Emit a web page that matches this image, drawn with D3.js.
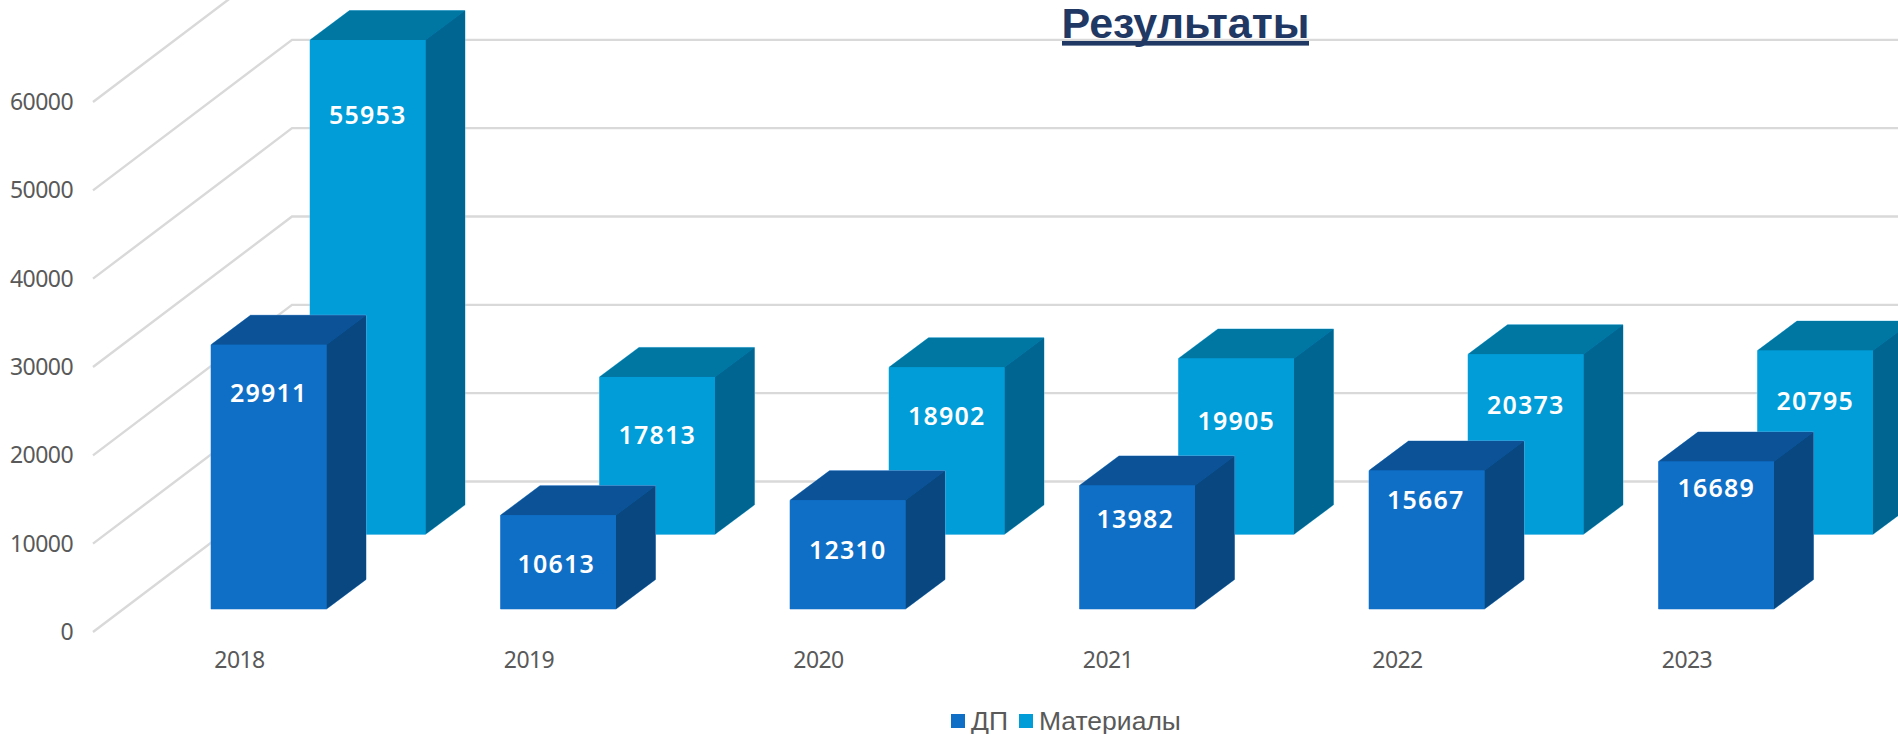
<!DOCTYPE html>
<html><head><meta charset="utf-8">
<script src="https://cdn.jsdelivr.net/npm/d3@7/dist/d3.min.js"></script>
<style>html,body{margin:0;padding:0;background:#fff;overflow:hidden}svg{display:block}</style>
</head><body><div id="chart"></div>
<script>
const years = ["2018","2019","2020","2021","2022","2023"];
const dpValues = [29911,10613,12310,13982,15667,16689];
const matValues = [55953,17813,18902,19905,20373,20795];
const yTicks = [0,10000,20000,30000,40000,50000,60000];
const seriesNames = ["ДП","Материалы"];
// hand-placed data label offsets from each bar's top centre (as in the original)
const dpLabelDrop = [48,49,50,33.5,29,26];
const matLabelDrop = [75,58,49,62.5,51,50];
const dpLabelShift = [0,-2,0,-2,-1,0];

const W=1898,H=734;
const svg=d3.select("#chart").append("svg").attr("width",W).attr("height",H);
const axisFont="'Noto Sans',sans-serif";
const h=d3.scaleLinear().domain([0,60000]).range([0,530]);
const yFront=d3.scaleLinear().domain([0,60000]).range([632,102]);
const xDp=d3.scalePoint().domain(years).range([211,1658.5]);
const xMat=d3.scalePoint().domain(years).range([310,1757.5]);
const xTick=d3.scalePoint().domain(years).range([239,1686.5]);
const wall={x0:93,x1:292,dy:-150.5};
const bw=115.5,ddx=39.5,ddy=29.5;

// gridlines
const grid=svg.append("g").attr("fill","none").attr("stroke","#d9d9d9").attr("stroke-width",2.4);
grid.selectAll("path").data(yTicks).join("path")
  .attr("d",d=>{const y=yFront(d);return `M${wall.x0},${y}L${wall.x1},${y+wall.dy}L${W},${y+wall.dy}`;});

// axes
const ya=svg.append("g").attr("transform",`translate(73,0)`)
  .call(d3.axisLeft(yFront).tickValues(yTicks).tickSize(0).tickPadding(0).tickFormat(d=>d));
ya.select(".domain").remove();
ya.selectAll("text").attr("font-family",axisFont).attr("font-size",23).attr("letter-spacing",-0.55).attr("fill","#595959");
const xa=svg.append("g").attr("transform",`translate(0,652)`)
  .call(d3.axisBottom(xTick).tickSize(0).tickPadding(0));
xa.select(".domain").remove();
xa.selectAll("text").attr("font-family",axisFont).attr("font-size",23).attr("letter-spacing",-0.55).attr("fill","#595959");

function bars(values,x,base,c,drop,shift){
  const g=svg.append("g");
  const rows=years.map((yr,i)=>({yr,v:values[i],d:drop[i],s:shift?shift[i]:0}));
  const b=g.selectAll("g").data(rows).join("g");
  b.append("path").attr("fill",c.front).attr("stroke",c.edge).attr("stroke-width",0.9)
    .attr("d",d=>{const l=x(d.yr),t=base-h(d.v);return `M${l},${t}L${l+ddx},${t-ddy}L${l+bw+ddx},${t-ddy}L${l+bw+ddx},${base-ddy}L${l+bw},${base}L${l},${base}Z`;});
  b.append("path").attr("fill",c.top)
    .attr("d",d=>{const l=x(d.yr),t=base-h(d.v);return `M${l},${t}L${l+ddx},${t-ddy}L${l+bw+ddx},${t-ddy}L${l+bw},${t}Z`;});
  b.append("path").attr("fill",c.side)
    .attr("d",d=>{const l=x(d.yr)+bw,t=base-h(d.v);return `M${l},${t}L${l+ddx},${t-ddy}L${l+ddx},${base-ddy}L${l},${base}Z`;});
  b.append("rect").attr("fill",c.front)
    .attr("x",d=>x(d.yr)).attr("y",d=>base-h(d.v)).attr("width",bw).attr("height",d=>h(d.v));
  b.append("text").text(d=>d.v)
    .attr("x",d=>x(d.yr)+bw/2+d.s).attr("y",d=>base-h(d.v)+d.d).attr("dy","0.36em")
    .attr("text-anchor","middle").attr("fill","#fff").attr("font-family",axisFont)
    .attr("font-weight",600).attr("font-size",25).attr("letter-spacing",1.2);
}
bars(matValues,xMat,534.3,{front:"#009dd9",top:"#0076a3",side:"#006590",edge:"#7cc8e8"},matLabelDrop);
bars(dpValues,xDp,609,{front:"#0f6fc6",top:"#0b5297",side:"#094780",edge:"#6fa6dc"},dpLabelDrop,dpLabelShift);

// title
const titleX=[1062,1309];
svg.append("text").text("Результаты").attr("x",(titleX[0]+titleX[1])/2).attr("y",38).attr("text-anchor","middle")
  .attr("font-family","'Liberation Sans',Arial,sans-serif").attr("font-weight",700).attr("font-size",43)
  .attr("fill","#1f3864");
svg.append("rect").attr("x",titleX[0]).attr("y",41).attr("width",titleX[1]-titleX[0]).attr("height",4.6).attr("fill","#1f3864");

// legend
const leg=svg.append("g").selectAll("g").data(seriesNames).join("g")
  .attr("transform",(d,i)=>`translate(${[951,1019][i]},714)`);
leg.append("rect").attr("width",14).attr("height",14).attr("fill",(d,i)=>["#0f6fc6","#009dd9"][i]);
leg.append("text").text(d=>d).attr("x",20).attr("y",15.5).attr("font-family","'Liberation Sans',Arial,sans-serif")
  .attr("font-size",26.5).attr("fill","#595959");
</script></body></html>
